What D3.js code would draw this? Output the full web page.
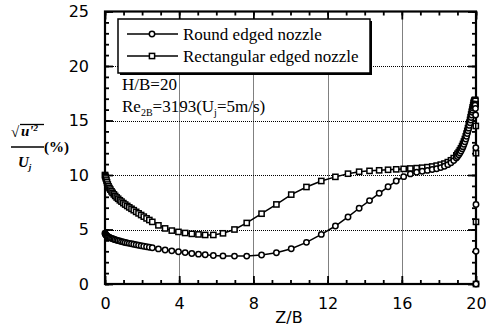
<!DOCTYPE html>
<html>
<head>
<meta charset="utf-8">
<script src="https://cdn.jsdelivr.net/npm/d3@7"></script>
<style>
  html, body { margin: 0; padding: 0; background: #fff; }
  svg { display: block; }
</style>
</head>
<body>
<svg id="chart" width="486" height="327"></svg>
<script>
// Measurement stations along the impingement distance (Z/B), clustered near both walls
const zPositions = [0, 0.01, 0.03, 0.05, 0.08, 0.11, 0.15, 0.19, 0.24, 0.29, 0.35, 0.41, 0.48, 0.55, 0.63, 0.71, 0.8, 0.89, 0.99, 1.09,
  1.2, 1.31, 1.43, 1.55, 1.68, 1.81, 1.95, 2.09, 2.24, 2.39, 2.55, 2.88, 3.24, 3.6, 3.96, 4.32, 4.68, 5.04, 5.4, 5.84,
  6.36, 6.98, 7.64, 8.44, 9.24, 10.04, 10.86, 11.66, 12.42, 13.1, 13.7, 14.26, 14.78, 15.26, 15.7, 16.1, 16.46, 16.8, 17.1, 17.38,
  17.64, 17.88, 18.1, 18.3, 18.48, 18.65, 18.8, 18.94, 19.0, 19.07, 19.13, 19.19, 19.25, 19.3, 19.35, 19.4, 19.45, 19.49, 19.53, 19.57,
  19.61, 19.64, 19.68, 19.71, 19.74, 19.77, 19.8, 19.82, 19.85, 19.87, 19.89, 19.91, 19.93, 19.95, 19.97, 19.98, 19.99, 20, 20, 20];

// Turbulence intensity sqrt(u'^2)/Uj in %, round edged nozzle
const roundValues = [4.65, 4.6, 4.54, 4.49, 4.44, 4.4, 4.35, 4.31, 4.27, 4.23, 4.19, 4.15, 4.11, 4.07, 4.02, 3.98, 3.94, 3.89, 3.85, 3.81,
  3.77, 3.73, 3.69, 3.64, 3.6, 3.56, 3.51, 3.47, 3.42, 3.37, 3.32, 3.22, 3.12, 3.04, 2.96, 2.88, 2.8, 2.74, 2.68, 2.62,
  2.58, 2.56, 2.56, 2.66, 2.87, 3.24, 3.82, 4.55, 5.32, 6.15, 6.95, 7.65, 8.32, 8.92, 9.45, 9.85, 10.1, 10.25, 10.35, 10.42,
  10.5, 10.58, 10.68, 10.8, 10.95, 11.12, 11.32, 11.55, 11.7, 11.85, 12.02, 12.2, 12.4, 12.6, 12.82, 13.05, 13.3, 13.55, 13.8, 14.05,
  14.3, 14.55, 14.8, 15.05, 15.28, 15.5, 15.75, 15.95, 16.15, 16.3, 16.42, 16.5, 16.5, 16.4, 16.1, 15.5, 12.5, 7.3, 3.0, 0];

// Turbulence intensity, rectangular edged nozzle
const rectValues = [10.0, 9.92, 9.8, 9.68, 9.5, 9.33, 9.13, 8.96, 8.8, 8.66, 8.5, 8.36, 8.22, 8.08, 7.94, 7.82, 7.68, 7.56, 7.42, 7.29,
  7.16, 7.03, 6.9, 6.77, 6.62, 6.48, 6.33, 6.18, 6.02, 5.87, 5.7, 5.38, 5.1, 4.9, 4.78, 4.68, 4.6, 4.55, 4.5, 4.5,
  4.65, 5.0, 5.6, 6.45, 7.3, 8.2, 8.9, 9.45, 9.83, 10.12, 10.3, 10.38, 10.43, 10.48, 10.52, 10.56, 10.6, 10.63, 10.67, 10.72,
  10.78, 10.86, 10.95, 11.05, 11.18, 11.35, 11.55, 11.8, 11.95, 12.1, 12.27, 12.45, 12.65, 12.85, 13.07, 13.3, 13.55, 13.8, 14.05, 14.3,
  14.55, 14.8, 15.05, 15.3, 15.55, 15.8, 16.0, 16.2, 16.4, 16.6, 16.7, 16.8, 16.85, 16.9, 16.8, 16.5, 14.5, 12.0, 5.7, 0];

const xTicks = [0, 4, 8, 12, 16, 20];
const yTicks = [0, 5, 10, 15, 20, 25];
const xMinorTicks = d3.range(0, 21, 1);
const yMinorTicks = d3.range(0, 26, 1);
const legendLabels = ["Round edged nozzle", "Rectangular edged nozzle"];

const svg = d3.select("#chart");
const plotLeft = 105, plotRight = 476, plotTop = 11.5, plotBottom = 284;

const x = d3.scaleLinear().domain([0, 20]).range([plotLeft, plotRight]);
const y = d3.scaleLinear().domain([0, 25]).range([plotBottom, plotTop]);

const tickFont = "'DejaVu Sans', sans-serif";
const serif = "'Liberation Serif', 'Times New Roman', serif";

// dotted grid at the major ticks
const grid = svg.append("g");
grid.selectAll(".gx").data(xTicks.slice(1, -1)).join("line").attr("class", "gx")
  .attr("x1", d => Math.round(x(d)) + 0.5).attr("x2", d => Math.round(x(d)) + 0.5)
  .attr("y1", plotTop).attr("y2", plotBottom);
grid.selectAll(".gy").data(yTicks.slice(1, -1)).join("line").attr("class", "gy")
  .attr("x1", plotLeft).attr("x2", plotRight)
  .attr("y1", d => Math.round(y(d)) + 0.5).attr("y2", d => Math.round(y(d)) + 0.5);
grid.selectAll("line")
  .attr("stroke", "#000").attr("stroke-width", 1).attr("stroke-dasharray", "1,1");

// axes with inward ticks on all four sides
function styleAxis(g) {
  g.select(".domain").remove();
  g.selectAll("line").attr("stroke", "#000").attr("stroke-width", 1.8);
}
svg.append("g").attr("transform", `translate(0,${plotBottom})`)
  .call(d3.axisBottom(x).tickValues(xMinorTicks).tickSize(-4).tickFormat(""))
  .call(styleAxis);
svg.append("g").attr("transform", `translate(0,${plotBottom})`)
  .call(d3.axisBottom(x).tickValues(xTicks).tickSize(-8).tickPadding(14).tickFormat(d3.format("d")))
  .call(styleAxis)
  .call(g => g.selectAll("text").attr("font-family", tickFont).attr("font-size", 16).attr("fill", "#000"));
svg.append("g").attr("transform", `translate(0,${plotTop})`)
  .call(d3.axisTop(x).tickValues(xMinorTicks).tickSize(-4).tickFormat(""))
  .call(styleAxis);
svg.append("g").attr("transform", `translate(0,${plotTop})`)
  .call(d3.axisTop(x).tickValues(xTicks).tickSize(-8).tickFormat(""))
  .call(styleAxis);
svg.append("g").attr("transform", `translate(${plotLeft},0)`)
  .call(d3.axisLeft(y).tickValues(yMinorTicks).tickSize(-4).tickFormat(""))
  .call(styleAxis);
svg.append("g").attr("transform", `translate(${plotLeft},0)`)
  .call(d3.axisLeft(y).tickValues(yTicks).tickSize(-8).tickPadding(16).tickFormat(d3.format("d")))
  .call(styleAxis)
  .call(g => g.selectAll("text").attr("font-family", tickFont).attr("font-size", 16).attr("fill", "#000"));
svg.append("g").attr("transform", `translate(${plotRight},0)`)
  .call(d3.axisRight(y).tickValues(yMinorTicks).tickSize(-4).tickFormat(""))
  .call(styleAxis);
svg.append("g").attr("transform", `translate(${plotRight},0)`)
  .call(d3.axisRight(y).tickValues(yTicks).tickSize(-8).tickFormat(""))
  .call(styleAxis);

// frame
svg.append("rect").attr("x", plotLeft).attr("y", plotTop).attr("width", plotRight - plotLeft).attr("height", plotBottom - plotTop)
  .attr("fill", "none").attr("stroke", "#000").attr("stroke-width", 2.2);

// series
const line = d3.line().x(d => x(d[0])).y(d => y(d[1]));
const roundPts = zPositions.map((z, i) => [z, roundValues[i]]);
const rectPts = zPositions.map((z, i) => [z, rectValues[i]]);

function drawCircles(g, pts, r) {
  g.selectAll("circle").data(pts).join("circle")
    .attr("cx", d => x(d[0])).attr("cy", d => y(d[1])).attr("r", r)
    .attr("fill", "#fff").attr("stroke", "#000").attr("stroke-width", 1.5);
}
function drawSquares(g, pts, s) {
  g.selectAll("rect").data(pts).join("rect")
    .attr("x", d => x(d[0]) - s / 2).attr("y", d => y(d[1]) - s / 2)
    .attr("width", s).attr("height", s)
    .attr("fill", "#fff").attr("stroke", "#000").attr("stroke-width", 1.5);
}

svg.append("path").datum(rectPts).attr("d", line).attr("fill", "none").attr("stroke", "#000").attr("stroke-width", 1.5);
drawSquares(svg.append("g"), rectPts, 5.2);
svg.append("path").datum(roundPts).attr("d", line).attr("fill", "none").attr("stroke", "#000").attr("stroke-width", 1.5);
drawCircles(svg.append("g"), roundPts, 2.7);

// legend box with drop shadow
const lg = svg.append("g");
lg.append("rect").attr("x", 120).attr("y", 21).attr("width", 252).attr("height", 54).attr("fill", "#000");
lg.append("rect").attr("x", 118).attr("y", 19).attr("width", 252).attr("height", 54)
  .attr("fill", "#fff").attr("stroke", "#000").attr("stroke-width", 1.5);
const rowY = [34, 56];
legendLabels.forEach((label, i) => {
  lg.append("line").attr("x1", 127).attr("x2", 178).attr("y1", rowY[i]).attr("y2", rowY[i])
    .attr("stroke", "#000").attr("stroke-width", 1.4);
  lg.append("text").attr("x", 183).attr("y", rowY[i] + 5.5)
    .attr("font-family", serif).attr("font-size", 17).text(label);
});
drawCircles(lg.append("g"), [[x.invert(152), y.invert(rowY[0])]], 2.7);
drawSquares(lg.append("g"), [[x.invert(152), y.invert(rowY[1])]], 5.2);

// flow conditions
svg.append("text").attr("x", 122).attr("y", 90).attr("font-family", serif).attr("font-size", 17).text("H/B=20");
const re = svg.append("text").attr("x", 122).attr("y", 112).attr("font-family", serif).attr("font-size", 17);
re.append("tspan").text("Re");
re.append("tspan").attr("font-size", 10).attr("dy", 4).text("2B");
re.append("tspan").attr("dy", -4).text("=3193(U");
re.append("tspan").attr("font-size", 10).attr("dy", 4).text("j");
re.append("tspan").attr("dy", -4).text("=5m/s)");

// y axis label: sqrt(u'^2)/Uj (%)
const yl = svg.append("g").attr("font-family", serif).attr("font-weight", "bold");
yl.append("text").attr("x", 11).attr("y", 137).attr("font-size", 15).text("\u221A");
yl.append("line").attr("x1", 20).attr("x2", 44).attr("y1", 124.5).attr("y2", 124.5).attr("stroke", "#000").attr("stroke-width", 1.3);
const num = yl.append("text").attr("x", 21).attr("y", 136).attr("font-size", 15).attr("font-style", "italic");
num.append("tspan").text("u'");
num.append("tspan").attr("font-size", 9).attr("dy", -5).text("2");
yl.append("line").attr("x1", 11).attr("x2", 44).attr("y1", 147).attr("y2", 147).attr("stroke", "#000").attr("stroke-width", 1.5);
yl.append("text").attr("x", 44).attr("y", 152).attr("font-size", 15).text("(%)");
const den = yl.append("text").attr("x", 18).attr("y", 167).attr("font-size", 15).attr("font-style", "italic");
den.append("tspan").text("U");
den.append("tspan").attr("font-size", 9).attr("dy", 3).text("j");

// x axis label
svg.append("text").attr("x", 289).attr("y", 323).attr("text-anchor", "middle")
  .attr("font-family", tickFont).attr("font-size", 16).text("Z/B");
</script>
</body>
</html>
